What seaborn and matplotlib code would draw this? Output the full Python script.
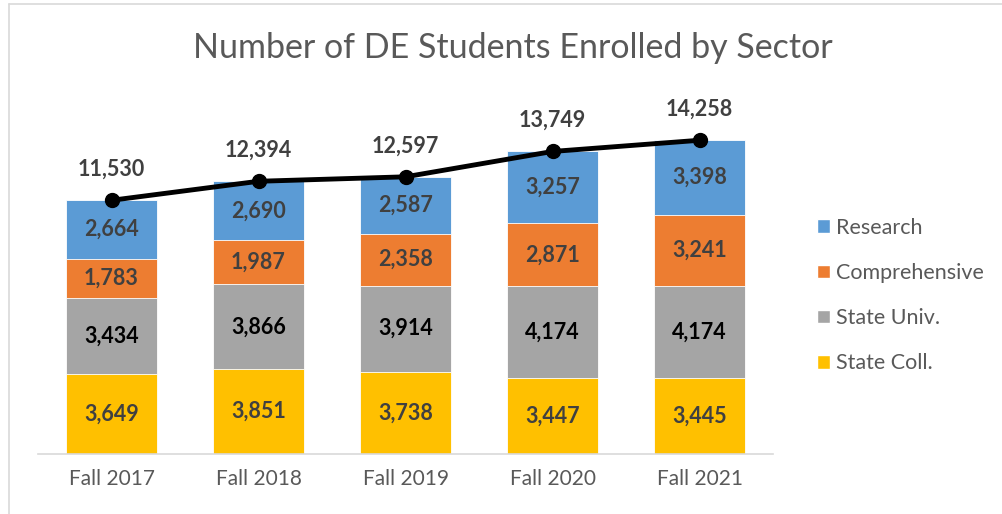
import numpy as np
import pandas as pd
import seaborn as sns
import matplotlib.pyplot as plt
from matplotlib.patches import Patch
from matplotlib.lines import Line2D

# Data
years = ['Fall 2017', 'Fall 2018', 'Fall 2019', 'Fall 2020', 'Fall 2021']
state_coll = [3649, 3851, 3738, 3447, 3445]
state_univ = [3434, 3866, 3914, 4174, 4174]
comprehensive = [1783, 1987, 2358, 2871, 3241]
research = [2664, 2690, 2587, 3257, 3398]
totals = [11530, 12394, 12597, 13749, 14258]

sectors = ['State Coll.', 'State Univ.', 'Comprehensive', 'Research']
colors = {'State Coll.': '#FFC000', 'State Univ.': '#A5A5A5',
          'Comprehensive': '#ED7D31', 'Research': '#5B9BD5'}
label_colors = {'State Coll.': '#404040', 'State Univ.': '#000000',
                'Comprehensive': '#404040', 'Research': '#404040'}

df = pd.DataFrame({'Year': years, 'State Coll.': state_coll, 'State Univ.': state_univ,
                   'Comprehensive': comprehensive, 'Research': research})

sns.set_style('white')
plt.rcParams['font.family'] = ['Lato', 'DejaVu Sans']

fig = plt.figure(figsize=(10.03, 5.14), dpi=100)
ax = fig.add_axes([0.0379, 0.1167, 0.7328, 0.685])

# Cumulative stacks drawn from top down so each layer shows
cum = df[sectors].cumsum(axis=1)
for s in reversed(sectors):
    sns.barplot(x=df['Year'], y=cum[s], color=colors[s], width=0.62,
                edgecolor='white', linewidth=0.6, ax=ax, saturation=1)

# Segment labels
for i in range(len(years)):
    bottom = 0
    for s in sectors:
        v = df[s][i]
        ax.text(i, bottom + v / 2, f'{v:,}', ha='center', va='center',
                fontsize=15.5, fontweight='bold', color=label_colors[s])
        bottom += v

# Total line
ax.plot(range(len(years)), totals, color='black', lw=3.5, marker='o',
        markersize=10, zorder=5, clip_on=False)
for i, t in enumerate(totals):
    ax.text(i, t + 1400, f'{t:,}', ha='center', va='center',
            fontsize=15.5, fontweight='bold', color='#404040')

ax.set_xlim(-0.5, 4.5)
ax.set_ylim(0, 16000)
ax.set_xlabel('')
ax.set_ylabel('')
ax.set_yticks([])
ax.tick_params(axis='x', length=0, labelsize=15, labelcolor='#595959', pad=11)
for side in ['top', 'right', 'left']:
    ax.spines[side].set_visible(False)
ax.spines['bottom'].set_color('#D9D9D9')
ax.spines['bottom'].set_linewidth(1.2)

fig.text(0.511, 0.906, 'Number of DE Students Enrolled by Sector', ha='center', va='center',
         fontsize=24.5, color='#595959')

handles = [Patch(facecolor=colors[s], label=s) for s in reversed(sectors)]
fig.legend(handles=handles, loc='center left', bbox_to_anchor=(0.795, 0.425),
           frameon=False, fontsize=15.5, handlelength=0.6, handleheight=0.6,
           handletextpad=0.3, labelspacing=1.17, labelcolor='#595959')

# chart border (top and left visible)
fig.add_artist(Line2D([9 / 1003, 9 / 1003], [0, 1 - 4 / 514], color='#D9D9D9', lw=1.2))
fig.add_artist(Line2D([9 / 1003, 1], [1 - 4 / 514, 1 - 4 / 514], color='#D9D9D9', lw=1.2))

fig.savefig('out.png', dpi=100)
